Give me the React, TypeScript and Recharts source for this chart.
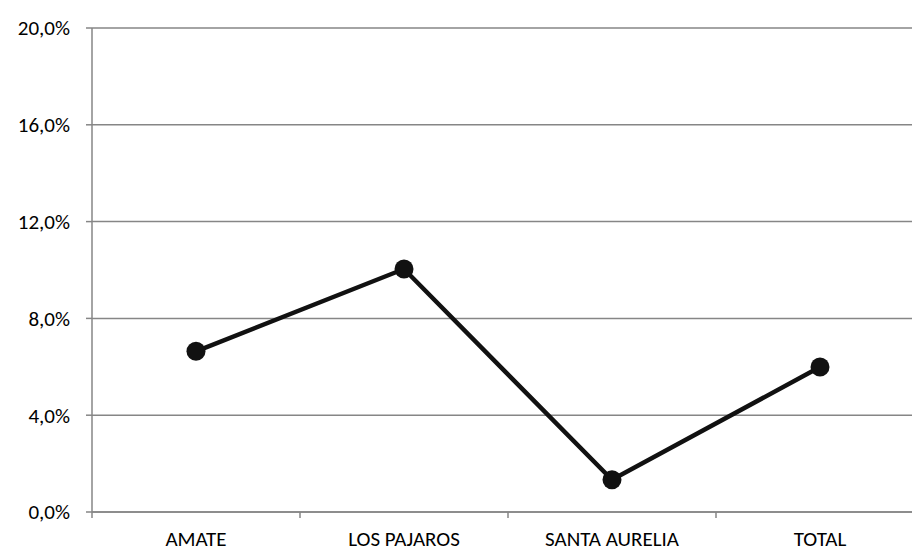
import React from "react";
import { LineChart, Line, XAxis, YAxis, CartesianGrid } from "recharts";

const categories = ["AMATE", "LOS PAJAROS", "SANTA AURELIA", "TOTAL"];
const values = [6.64, 10.04, 1.33, 5.99];
const yTicks = [0, 4, 8, 12, 16, 20];

const data = categories.map((name, i) => ({ name, value: values[i] }));

const gray = "#868686";
const font = "Carlito, 'Open Sans', 'Liberation Sans', sans-serif";
const halfBand = 104;
const tickSize = 6;
const tickMargin = 13;

// category label plus a small tick mark on the left edge of each band
const CategoryTick = (props: any) => {
  const { x, y, payload } = props;
  const axisY = y - tickSize - tickMargin;
  return (
    <g>
      <line
        x1={x - halfBand}
        x2={x - halfBand}
        y1={axisY}
        y2={axisY + tickSize}
        stroke={gray}
        strokeWidth={1.5}
      />
      <text
        x={x}
        y={y}
        dy="0.71em"
        textAnchor="middle"
        fill="#000"
        fontSize={21}
        fontFamily={font}
      >
        {payload.value}
      </text>
    </g>
  );
};

export default function App() {
  return (
    <div
      style={{
        position: "fixed",
        left: 0,
        top: 0,
        width: 912,
        height: 552,
        overflow: "hidden",
        background: "#fff",
      }}
    >
      <LineChart
        width={924}
        height={552}
        data={data}
        margin={{ top: 28, right: 0, bottom: 0, left: 0 }}
      >
        <CartesianGrid vertical={false} stroke={gray} strokeWidth={1.5} />
        <XAxis
          dataKey="name"
          height={40}
          padding={{ left: halfBand, right: halfBand }}
          stroke={gray}
          strokeWidth={1.5}
          tickMargin={tickMargin}
          tickSize={tickSize}
          tickLine={{ stroke: "none" }}
          tick={<CategoryTick />}
        />
        <YAxis
          width={92}
          domain={[0, 20]}
          ticks={yTicks}
          interval={0}
          stroke={gray}
          strokeWidth={1.5}
          tickSize={6}
          tickMargin={16}
          tickFormatter={(v: number) => `${v.toFixed(1).replace(".", ",")}%`}
          tick={{ fill: "#000", fontSize: 21, fontFamily: font }}
        />
        <Line
          type="linear"
          dataKey="value"
          stroke="#111"
          strokeWidth={4.5}
          dot={{ r: 9.5, fill: "#111", stroke: "#111", strokeWidth: 0 }}
          activeDot={false}
          isAnimationActive={false}
        />
      </LineChart>
    </div>
  );
}
